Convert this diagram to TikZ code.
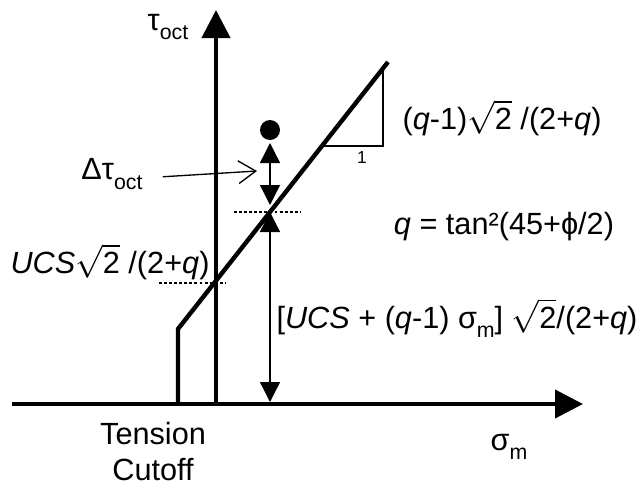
\documentclass[tikz,border=0pt]{standalone}
\usepackage{fontspec}
\setmainfont{Liberation Sans}
\usetikzlibrary{arrows.meta}
\newcommand\sub[1]{\raisebox{-0.3em}{\fontsize{16}{16}\selectfont #1}}
\newcommand\rtwo{$\sqrt{\hbox{2}}$}

\begin{document}
\begin{tikzpicture}[x=0.75pt, y=0.75pt,
  every node/.style={inner sep=0pt, font=\fontsize{23}{27}\selectfont},
  axis/.style={line width=3pt, -{Triangle[length=21pt, width=21pt]}},
  envelope/.style={line width=3.3pt, line join=miter},
  dimline/.style={line width=1pt},
  guide/.style={line width=2pt, dash pattern=on 2.2pt off 1.6pt},
  pointer/.style={line width=1pt, -{Straight Barb[length=13pt, width=17pt, line width=1pt]}}]
  \useasboundingbox (0,0) rectangle (642,487);

  % axes
  \coordinate (hstart) at (12,83);
  \coordinate (hend) at (583,83);
  \coordinate (vfoot) at (216,83);
  \coordinate (vtop) at (216,477);
  \draw[axis] (hstart) -- (hend);
  \draw[axis] (vfoot) -- (vtop);

  % failure envelope with tension cutoff
  \coordinate (cfoot) at (178,83);
  \coordinate (knee) at (178,158);
  \coordinate (ftop) at (388,425);
  \draw[envelope] (cfoot) -- (knee) -- (ftop);

  % slope triangle
  \coordinate (sl1) at (322,341);
  \coordinate (sl2) at (383,341);
  \coordinate (sl3) at (383,418);
  \draw[dimline] (sl1) -- (sl2) -- (sl3);

  % intercept marks
  \coordinate (g1a) at (159,204);
  \coordinate (g1b) at (226,204);
  \coordinate (g2a) at (234,275);
  \coordinate (g2b) at (301,275);
  \draw[guide] (g1a) -- (g1b);
  \draw[guide] (g2a) -- (g2b);

  % stress point and distances
  \coordinate (pt) at (270,357);
  \fill (pt) circle (7.5pt);
  \coordinate (d1) at (270,344);
  \coordinate (d2) at (270,282);
  \coordinate (d3) at (270,275);
  \coordinate (d4) at (270,85);
  \draw[dimline, {Triangle[length=15pt, width=15pt]}-{Triangle[length=15pt, width=15pt]}] (d1) -- (d2);
  \draw[dimline, {Triangle[length=15pt, width=15pt]}-{Triangle[length=15pt, width=15pt]}] (d3) -- (d4);

  % labels
  \node (tau) at (168,460) {τ\sub{oct}};
  \node (dtau) at (112,313) {Δτ\sub{oct}};
  \node (ucs) at (110,225) {\textit{UCS}\rtwo\ /(2+\textit{q})};
  \node (slope) at (502,369) {(\textit{q}-1)\rtwo\ /(2+\textit{q})};
  \node[font=\fontsize{13}{15}\selectfont] (one) at (362,329) {1};
  \node (qdef) at (504,260) {\textit{q} = tan²(45+ϕ/2)};
  \node (height) at (457,169) {[\textit{UCS} + (\textit{q}-1) σ\sub{m}] \rtwo/(2+\textit{q})};
  \node[align=center] (cutoff) at (153,35) {Tension\\Cutoff};
  \node (sigm) at (509,40) {σ\sub{m}};

  \coordinate (dtip) at (257,316);
  \draw[pointer, shorten <=15pt] ([yshift=-3pt]dtau.east) -- (dtip);
\end{tikzpicture}
\end{document}
